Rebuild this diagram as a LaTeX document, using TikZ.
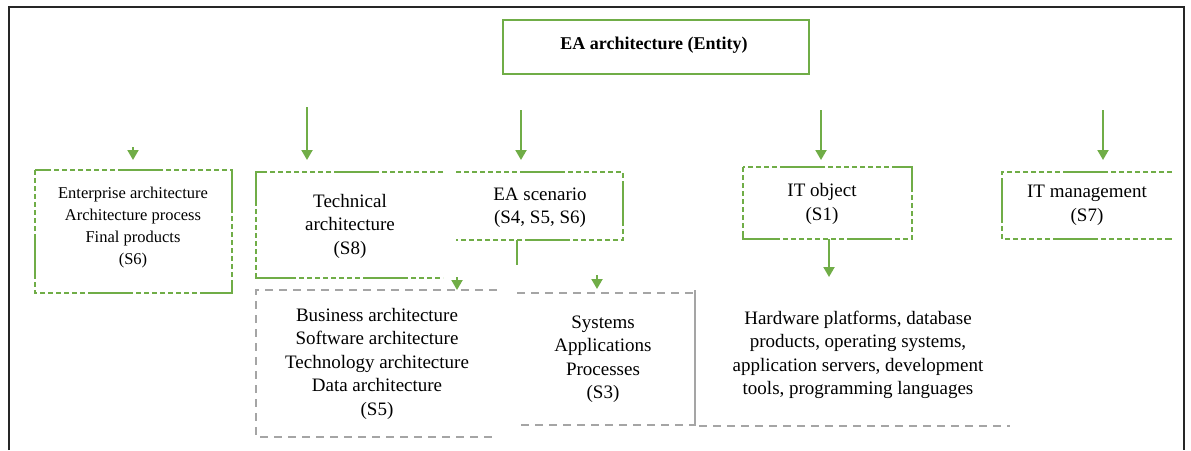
\documentclass[tikz,border=0pt]{standalone}
\usepackage{fontspec}
\setmainfont{Liberation Serif}
\usetikzlibrary{arrows.meta}
\definecolor{eagreen}{HTML}{70AD47}
\definecolor{eagrey}{HTML}{A5A5A5}
\begin{document}
\begin{tikzpicture}[x=1pt,y=-1pt,
  boxarea/.style={draw=none, inner sep=0pt, outer sep=0pt},
  gmix/.style={draw=eagreen, line width=2.4pt,
    dash pattern=on 5pt off 3pt on 5pt off 3pt on 5pt off 3pt on 5pt off 3pt on 5pt off 3pt on 5pt off 3pt on 5pt off 3pt on 5pt off 3pt on 45pt off 3pt},
  gsolid/.style={draw=eagreen, line width=2.4pt},
  gdash/.style={draw=eagrey, line width=1.8pt, dash pattern=on 8pt off 6pt},
  garrow/.style={draw=eagreen, line width=2pt, -{Triangle[width=11pt,length=10pt]}},
  txt/.style={align=center, inner sep=0pt, font=\fontsize{19}{23.5}\selectfont},
  txts/.style={align=center, inner sep=0pt, font=\fontsize{16.5}{22}\selectfont},
  frame/.style={draw=black!85, line width=1.5pt}]
\useasboundingbox (0,0) rectangle (1191,450);
% outer frame
\draw[frame] (9,450) -- (9,7) -- (1184,7) -- (1184,450);

% box areas
\node[boxarea, minimum width=306pt, minimum height=54pt] (ea) at (656,47) {};
\node[boxarea, minimum width=197pt, minimum height=123pt] (ent) at (133.5,231.5) {};
\node[boxarea, minimum width=187pt, minimum height=106pt] (tech) at (349.5,225) {};
\node[boxarea, minimum width=167pt, minimum height=68pt] (scen) at (539.5,206) {};
\node[boxarea, minimum width=169pt, minimum height=72pt] (itobj) at (827.5,203) {};
\node[boxarea, minimum width=170pt, minimum height=67pt] (itm) at (1087,205.5) {};
\node[boxarea, minimum width=241pt, minimum height=147pt] (bus) at (376.5,363.5) {};
\node[boxarea, minimum width=178pt, minimum height=132pt] (sys) at (606,359) {};
\node[boxarea, minimum width=315pt, minimum height=136pt] (hw) at (852.5,358) {};

% box outlines
\draw[gsolid] (ea.north west) rectangle (ea.south east);
\draw[gmix] (ent.north west) rectangle (ent.south east);
\draw[gmix] (tech.north east) -- (tech.north west) -- (tech.south west) -- (tech.south east);
\draw[gmix] (scen.north west) -- (scen.north east) -- (scen.south east) -- (scen.south west);
\draw[gmix] (itobj.north west) rectangle (itobj.south east);
\draw[gmix] (itm.north east) -- (itm.north west) -- (itm.south west) -- (itm.south east);
\draw[gdash] (bus.north east) -- (bus.north west) -- (bus.south west) -- (bus.south east);
\draw[gdash] (sys.north west) -- (sys.north east) -- (sys.south east) -- (sys.south west);
\draw[gdash] (hw.north west) -- (hw.south west) -- (hw.south east);

% texts
\node[txt, font=\bfseries\fontsize{18}{22}\selectfont] (eaT) at (654,45) {EA architecture (Entity)};
\node[txts] (entT) at (133,228) {Enterprise architecture\\Architecture process\\Final products\\(S6)};
\node[txt] (techT) at (350,226) {Technical\\architecture\\(S8)};
\node[txt] (scenT) at (540,207.5) {EA scenario\\(S4, S5, S6)};
\node[txt] (itobjT) at (822,204) {IT object\\(S1)};
\node[txt] (itmT) at (1087,205.5) {IT management\\(S7)};
\node[txt] (busT) at (377,363.5) {Business architecture\\Software architecture\\Technology architecture\\Data architecture\\(S5)};
\node[txt] (sysT) at (603,359) {Systems\\Applications\\Processes\\(S3)};
\node[txt] (hwT) at (858,355) {Hardware platforms, database\\products, operating systems,\\application servers, development\\tools, programming languages};

% arrows from above
\coordinate (s1) at (133,147);
\coordinate (s2) at (307,107);
\coordinate (s3) at (521,110);
\coordinate (s4) at (821,110);
\coordinate (s5) at (1103,110);
\draw[garrow, shorten >=10pt] (s1) -- (s1 |- ent.north);
\draw[garrow, shorten >=12pt] (s2) -- (s2 |- tech.north);
\draw[garrow, shorten >=12pt] (s3) -- (s3 |- scen.north);
\draw[garrow, shorten >=7pt] (s4) -- (s4 |- itobj.north);
\draw[garrow, shorten >=12pt] (s5) -- (s5 |- itm.north);

% lower connectors
\coordinate (b1) at (457,277);
\coordinate (b2) at (597,275);
\draw[garrow] (b1) -- (b1 |- bus.north);
\draw[garrow, shorten >=4pt] (b2) -- (b2 |- sys.north);
\draw[gsolid, line width=2pt] ([xshift=-22.5pt]scen.south) -- ++(0,25);
\draw[garrow, shorten >=13pt] ([xshift=1.5pt]itobj.south) -- ([xshift=1.5pt]itobj.south |- hw.north);
\end{tikzpicture}
\end{document}
